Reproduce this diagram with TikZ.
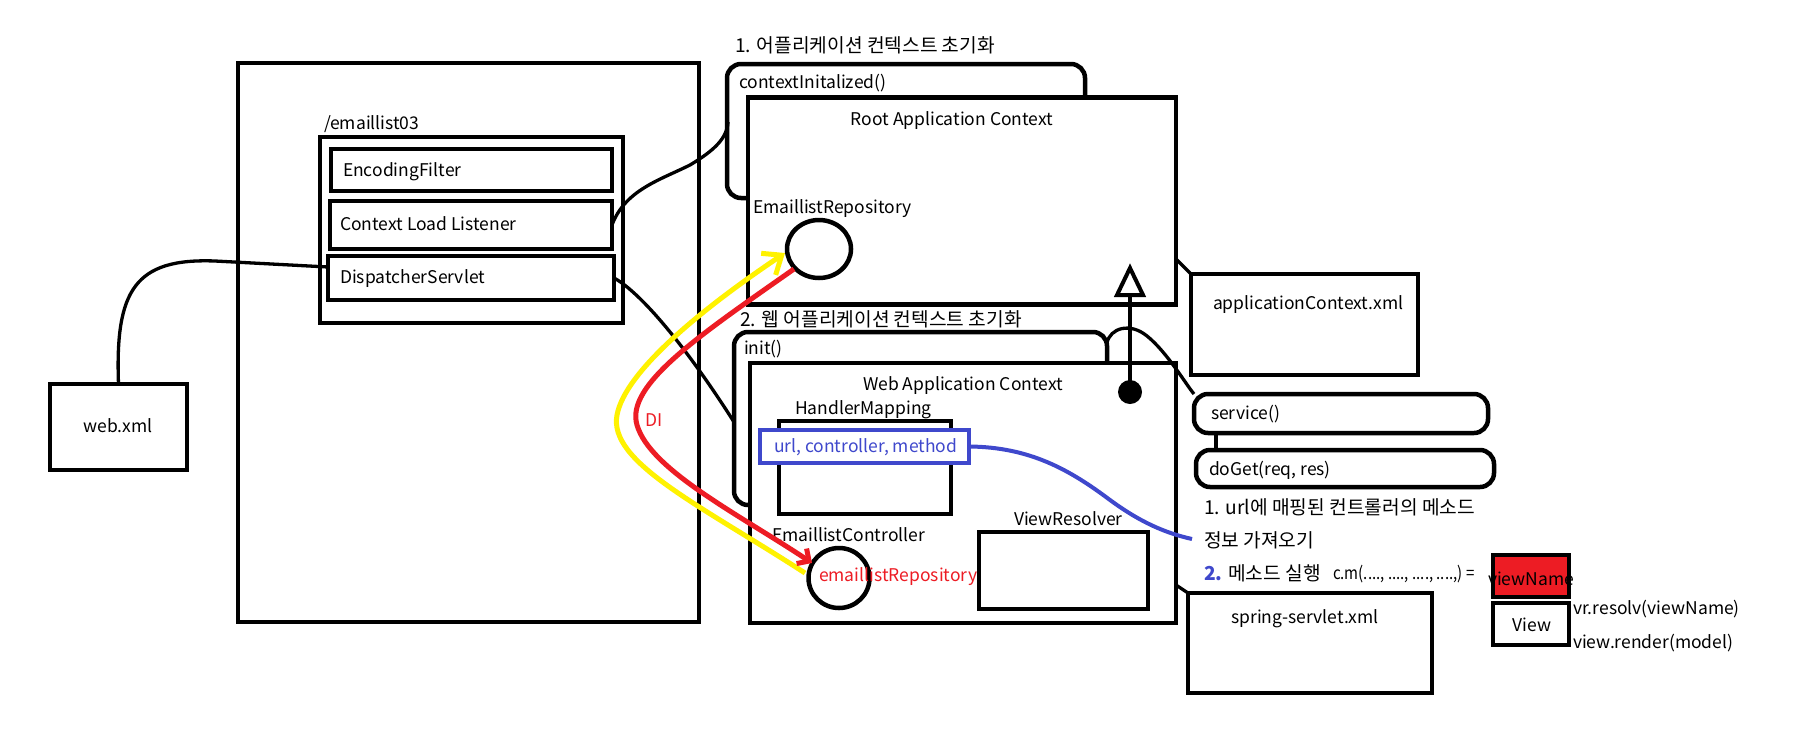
\documentclass[tikz,border=0pt]{standalone}
\usepackage{fontspec}
\setmainfont{Noto Sans CJK KR}
\usetikzlibrary{arrows.meta,shapes.geometric}
\definecolor{pred}{HTML}{ED1C24}
\definecolor{pyel}{HTML}{FFF200}
\definecolor{pblue}{HTML}{3F48CC}
\begin{document}
\begin{tikzpicture}[x=1pt,y=-1pt,
  box/.style={draw, line width=4.5pt, fill=white, inner sep=0pt, outer sep=0pt},
  rbox/.style={box, rounded corners=14pt},
  pill/.style={box, rounded corners=14pt},
  oval/.style={draw, ellipse, line width=4.5pt, fill=white, inner sep=0pt, outer sep=0pt},
  lab/.style={inner sep=0pt, outer sep=0pt, anchor=base west, font=\fontsize{17.5}{20}\selectfont},
  clab/.style={lab, anchor=base},
  klab/.style={inner sep=0pt, outer sep=0pt, anchor=base west, font=\fontsize{19.2}{22}\selectfont},
  conn/.style={line width=3.3pt},
  ccurve/.style={line width=5pt},
]
\useasboundingbox (0,0) rectangle (1795,737);
\fill[white] (0,0) rectangle (1795,737);

% ---- left part
\node[box, minimum width=461pt, minimum height=559pt] (outer) at (468.5,342.5) {};
\node[lab] (emlbl) at (324,129) {/emaillist03};
\node[box, minimum width=303pt, minimum height=186pt] (cont) at (471.5,230) {};
\node[box, minimum width=281pt, minimum height=42pt] (ef) at (471.5,170) {};
\node[lab] (eft) at (343,176) {EncodingFilter};
\node[box, minimum width=282pt, minimum height=48pt] (cll) at (471,225) {};
\node[lab] (cllt) at (340,230) {Context Load Listener};
\node[box, minimum width=286pt, minimum height=44pt] (ds) at (471,278) {};
\node[lab] (dst) at (340,283) {DispatcherServlet};
\node[box, minimum width=137pt, minimum height=86pt] (wx) at (118.5,427) {};
\node[clab] (wxt) at (118,432) {web.xml};

% ---- root application context
\node[klab] (t1) at (735,52) {1. 어플리케이션 컨텍스트 초기화};
\node[rbox, minimum width=358pt, minimum height=134pt] (ci) at (906,131) {};
\node[lab] (cit) at (739,88) {contextInitalized()};
\node[box, minimum width=428pt, minimum height=207pt] (root) at (962,201) {};
\node[clab] (roott) at (952,125) {Root Application Context};
\node[lab] (rept) at (753,213) {EmaillistRepository};
\node[oval, minimum width=64pt, minimum height=58pt] (rep) at (819,249) {};

% ---- web application context
\node[klab] (t2) at (740,326) {2. 웹 어플리케이션 컨텍스트 초기화};
\node[rbox, minimum width=373pt, minimum height=173pt] (ini) at (920.5,418.5) {};
\node[lab] (init) at (744,354) {init()};
\node[box, minimum width=426pt, minimum height=260pt] (web) at (963,493) {};
\node[clab] (webt) at (963,390) {Web Application Context};
\node[lab] (hmt) at (795,414) {HandlerMapping};
\node[box, minimum width=172pt, minimum height=93pt] (hm) at (865,467.5) {};
\node[box, draw=pblue, minimum width=209pt, minimum height=33pt] (ucm) at (864.5,446.5) {};
\node[lab, text=pblue] (ucmt) at (774,452) {url, controller, method};
\node[lab] (ctlt) at (772,541) {EmaillistController};
\node[oval, minimum width=61pt, minimum height=60pt] (ctl) at (839,578) {};
\node[lab] (vrt) at (1014,525) {ViewResolver};
\node[box, minimum width=169pt, minimum height=77pt] (vr) at (1063.5,570.5) {};

% ---- right part
\node[box, minimum width=227pt, minimum height=101pt] (appx) at (1304.5,324.5) {};
\node[lab] (appxt) at (1213,309) {applicationContext.xml};
\node[box, minimum width=244pt, minimum height=100pt] (spx) at (1310,643) {};
\node[clab] (spxt) at (1305,623) {spring-servlet.xml};
\node[pill, minimum width=294pt, minimum height=39pt] (svc) at (1341,413.5) {};
\node[lab] (svct) at (1211,419) {service()};
\node[pill, minimum width=298pt, minimum height=37pt] (dg) at (1345,468.5) {};
\node[lab] (dgt) at (1209,475) {doGet(req, res)};
\draw[line width=4.5pt] (1216,433) -- (1216,450);

\node[klab] (s1) at (1204,514) {1. url에 매핑된 컨트롤러의 메소드};
\node[klab] (s2) at (1204,547) {정보 가져오기};
\node[klab] (s3) at (1204,580) {\textcolor{pblue}{\textbf{2.}} 메소드 실행};
\node[lab] (s4) at (1333,579) {\scalebox{0.86}[1]{c.m(...., ...., ...., ....,) =}};
\node[box, fill=pred, minimum width=76pt, minimum height=42pt] (vn) at (1531,576) {};
\node[lab] (vnt) at (1488,585) {viewName};
\node[box, minimum width=76pt, minimum height=42pt] (vw) at (1531,624) {};
\node[clab] (vwt) at (1532,631) {View};
\node[lab] (vrr) at (1573,614) {vr.resolv(viewName)};
\node[lab] (vrd) at (1573,648) {view.render(model)};

% ---- connectors (black)
\coordinate (tb) at (1130,295);
\node[circle, fill=black, inner sep=0pt, minimum size=24pt] (dot) at (1130,392) {};
\draw[line width=4pt] (dot.center) -- (tb);
\draw[line width=4pt, fill=white, line join=miter] (1117,295) -- (1130,268) -- (1143,295) -- cycle;

\draw[conn] (wx.north) .. controls (115,290) and (135,258) .. (215,261) -- (ds.west |- 0,267);
\draw[conn] (cll.east) .. controls (625,190) and (660,180) .. (690,165) .. controls (715,150) and (727,138) .. (728,122);
\draw[conn] (ds.east) .. controls (640,292) and (685,345) .. (734,422);
\draw[conn] (1107,343) .. controls (1110,328) and (1130,322) .. (1147,336) .. controls (1167,352) and (1187,386) .. (svc.north west);
\draw[conn] (root.east |- 0,259) -- (appx.north west);
\draw[conn] (web.east |- 0,585) -- (spx.north west);

% ---- coloured curves
\draw[ccurve, pyel, -{Straight Barb[length=16pt,width=26pt]}] (805,573) .. controls (700,505) and (608,462) .. (617,415) .. controls (625,372) and (700,310) .. (785,253);
\draw[ccurve, pred, -{Straight Barb[length=9pt,width=18pt]}] (794,269) .. controls (700,335) and (625,385) .. (637,425) .. controls (650,470) and (740,515) .. (812,563);
\draw[line width=4pt, pblue] (ucm.east) .. controls (1030,447) and (1070,470) .. (1110,500) .. controls (1140,522) and (1165,533) .. (1192,539);
\node[clab, text=pred] (di) at (654,426) {DI};
\node[lab, text=pred] (ert) at (819,581) {emaillistRepository};
\end{tikzpicture}
\end{document}
